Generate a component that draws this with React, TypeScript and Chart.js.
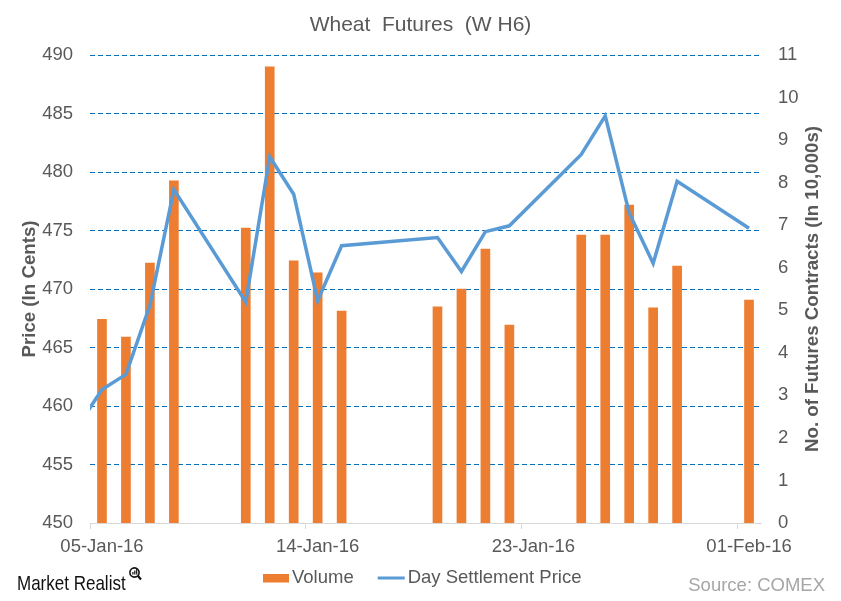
import React, { useEffect, useRef } from 'react';
import { Chart, registerables } from 'chart.js';

Chart.register(...registerables);

// ---------------- data ----------------
const chartTitle = 'Wheat  Futures  (W H6)';
const leftAxisTitle = 'Price (In Cents)';
const rightAxisTitle = 'No. of Futures Contracts (In 10,000s)';
const sourceText = 'Source: COMEX';
const brandText = 'Market Realist';

const tradeDates = [
  '2016-01-04', '2016-01-05', '2016-01-06', '2016-01-07', '2016-01-08',
  '2016-01-11', '2016-01-12', '2016-01-13', '2016-01-14', '2016-01-15',
  '2016-01-19', '2016-01-20', '2016-01-21', '2016-01-22',
  '2016-01-25', '2016-01-26', '2016-01-27', '2016-01-28', '2016-01-29',
  '2016-02-01',
];
const settlementPrice = [
  458.3, 461.4, 462.7, 468.6, 478.5,
  468.9, 481.3, 478.1, 469.0, 473.7,
  474.4, 471.5, 474.9, 475.4,
  481.5, 484.8, 476.5, 472.2, 479.2,
  475.2,
];
const volume10k = [
  null, 4.79, 4.37, 6.11, 8.04,
  6.93, 10.72, 6.16, 5.88, 4.98,
  5.08, 5.50, 6.44, 4.65,
  6.77, 6.77, 7.47, 5.06, 6.04,
  5.24,
];
const xTickDates = ['2016-01-05', '2016-01-14', '2016-01-23', '2016-02-01'];
const axisStartDate = '2016-01-05';
const axisEndDate = '2016-02-02';
const priceMin = 450;
const priceMax = 490;
const priceStep = 5;
const volumeMin = 0;
const volumeMax = 11;
const volumeStep = 1;

const seriesLabels = { volume: 'Volume', price: 'Day Settlement Price' };

// ---------------- helpers ----------------
const MONTHS = ['Jan', 'Feb', 'Mar', 'Apr', 'May', 'Jun', 'Jul', 'Aug', 'Sep', 'Oct', 'Nov', 'Dec'];
const DAY = 86400000;
function utc(iso: string) {
  const [y, m, d] = iso.split('-').map(Number);
  return Date.UTC(y, m - 1, d);
}
const BASE = utc(axisStartDate);
function dayIndex(iso: string) {
  return Math.round((utc(iso) - BASE) / DAY);
}
function fmtDay(idx: number) {
  const dt = new Date(BASE + Math.round(idx) * DAY);
  const dd = String(dt.getUTCDate()).padStart(2, '0');
  return `${dd}-${MONTHS[dt.getUTCMonth()]}-${String(dt.getUTCFullYear()).slice(2)}`;
}

const FONT = '"Liberation Sans", Arial, Helvetica, sans-serif';
const TEXT = '#595959';
const ORANGE = '#ED7D31';
const BLUE = '#5B9BD5';
const GRID = '#0070C0';
const AXIS = '#D9D9D9';

const extrasPlugin = {
  id: 'extras',
  afterDraw(chart: any) {
    const ctx = chart.ctx as CanvasRenderingContext2D;
    const area = chart.chartArea;
    const H = chart.height;
    const W = chart.width;

    // right axis title (reads bottom-to-top)
    ctx.save();
    ctx.translate(area.right + 52, (area.top + area.bottom) / 2);
    ctx.rotate(-Math.PI / 2);
    ctx.font = `bold 18.7px ${FONT}`;
    ctx.fillStyle = TEXT;
    ctx.textAlign = 'center';
    ctx.textBaseline = 'middle';
    ctx.fillText(rightAxisTitle, 0, 0);
    ctx.restore();

    // legend
    const ly = H - 23;
    ctx.save();
    ctx.font = `18.5px ${FONT}`;
    ctx.fillStyle = TEXT;
    ctx.textBaseline = 'middle';
    ctx.textAlign = 'left';
    const barDs = chart.data.datasets[1];
    const lineDs = chart.data.datasets[0];
    let x = 263;
    ctx.fillStyle = barDs.backgroundColor;
    ctx.fillRect(x, ly - 4, 26, 8.5);
    x += 29;
    ctx.fillStyle = TEXT;
    ctx.fillText(barDs.label, x, ly);
    x += ctx.measureText(barDs.label).width + 24;
    ctx.strokeStyle = lineDs.borderColor;
    ctx.lineWidth = 3;
    ctx.beginPath();
    ctx.moveTo(x, ly);
    ctx.lineTo(x + 27, ly);
    ctx.stroke();
    x += 30;
    ctx.fillText(lineDs.label, x, ly);
    ctx.restore();

    // source
    ctx.save();
    ctx.font = `18.5px ${FONT}`;
    ctx.fillStyle = '#A6A6A6';
    ctx.textAlign = 'right';
    ctx.textBaseline = 'alphabetic';
    ctx.fillText(sourceText, W - 16, H - 10);
    ctx.restore();

    // brand
    ctx.save();
    ctx.translate(17, H - 11);
    ctx.scale(1, 1.15);
    ctx.font = `17px ${FONT}`;
    ctx.fillStyle = '#111111';
    ctx.textAlign = 'left';
    ctx.textBaseline = 'alphabetic';
    ctx.fillText(brandText, 0, 0);
    ctx.restore();
    // magnifier icon
    ctx.save();
    ctx.strokeStyle = '#111111';
    ctx.lineWidth = 1.6;
    ctx.beginPath();
    ctx.arc(134.5, H - 28.5, 4.6, 0, Math.PI * 2);
    ctx.stroke();
    ctx.lineWidth = 2.2;
    ctx.beginPath();
    ctx.moveTo(137.8, H - 25.2);
    ctx.lineTo(141, H - 21.5);
    ctx.stroke();
    ctx.fillStyle = '#111111';
    ctx.fillRect(132.3, H - 29, 1.2, 2.5);
    ctx.fillRect(134.2, H - 30.5, 1.2, 4);
    ctx.fillRect(136.1, H - 32, 1.2, 5.5);
    ctx.restore();
  },
};

export default function App() {
  const ref = useRef<HTMLCanvasElement | null>(null);

  useEffect(() => {
    document.body.style.margin = '0';
    const canvas = ref.current;
    if (!canvas) return;

    const pricePoints = tradeDates.map((d, i) => ({ x: dayIndex(d) + 0.5, y: settlementPrice[i] }));
    const volumePoints = tradeDates
      .map((d, i) => ({ x: dayIndex(d) + 0.5, y: volume10k[i] }))
      .filter((p) => p.y !== null);

    const chart = new Chart(canvas, {
      type: 'line',
      data: {
        datasets: [
          {
            type: 'line',
            label: seriesLabels.price,
            data: pricePoints as any,
            yAxisID: 'y',
            borderColor: BLUE,
            backgroundColor: BLUE,
            borderWidth: 3.5,
            pointRadius: 0,
            tension: 0,
            clip: 0,
            order: 0,
          },
          {
            type: 'bar',
            label: seriesLabels.volume,
            data: volumePoints as any,
            yAxisID: 'y1',
            backgroundColor: ORANGE,
            borderWidth: 0,
            barThickness: 9,
            order: 1,
          } as any,
        ],
      },
      options: {
        responsive: false,
        animation: false,
        events: [],
        layout: { padding: 0 },
        plugins: {
          legend: { display: false },
          tooltip: { enabled: false },
          title: {
            display: true,
            text: chartTitle,
            color: TEXT,
            font: { family: FONT, size: 21, weight: 'normal' },
            padding: { top: 12.6, bottom: 17.2 },
          },
        },
        scales: {
          x: {
            type: 'linear',
            offset: false,
            min: 0,
            max: dayIndex(axisEndDate),
            afterBuildTicks: (scale: any) => {
              scale.ticks = xTickDates.map((d) => ({ value: dayIndex(d) }));
            },
            afterFit: (scale: any) => {
              scale.height = 78;
            },
            ticks: {
              callback: (v: any) => fmtDay(Number(v)),
              color: TEXT,
              font: { family: FONT, size: 18.5 },
              labelOffset: 12,
              padding: 7,
              maxRotation: 0,
              autoSkip: false,
            },
            grid: {
              display: true,
              offset: false,
              drawOnChartArea: false,
              drawTicks: true,
              tickLength: 6,
              color: AXIS,
              tickColor: AXIS,
            },
            border: { display: true, color: AXIS, width: 1 },
          },
          y: {
            type: 'linear',
            position: 'left',
            min: priceMin,
            max: priceMax,
            afterFit: (scale: any) => {
              scale.width = 90;
            },
            ticks: {
              stepSize: priceStep,
              color: TEXT,
              font: { family: FONT, size: 18.5 },
              padding: 17,
            },
            grid: {
              drawTicks: false,
              lineWidth: 1,
              color: (c: any) => (c.tick && c.tick.value === priceMin ? 'rgba(0,0,0,0)' : GRID),
            },
            border: { display: false, dash: [5, 3] },
            title: {
              display: true,
              text: leftAxisTitle,
              color: TEXT,
              font: { family: FONT, size: 18.7, weight: 'bold' },
              padding: { top: 19, bottom: 0 },
            },
          },
          y1: {
            type: 'linear',
            position: 'right',
            min: volumeMin,
            max: volumeMax,
            afterFit: (scale: any) => {
              scale.width = 80;
            },
            ticks: {
              stepSize: volumeStep,
              color: TEXT,
              font: { family: FONT, size: 18.5 },
              padding: 17,
            },
            grid: { display: false, drawTicks: false },
            border: { display: false },
          },
        },
      } as any,
      plugins: [extrasPlugin as any],
    });

    return () => chart.destroy();
  }, []);

  return (
    <div style={{ width: 841, height: 601, background: '#ffffff' }}>
      <canvas ref={ref} width={841} height={601} style={{ display: 'block' }} />
    </div>
  );
}
